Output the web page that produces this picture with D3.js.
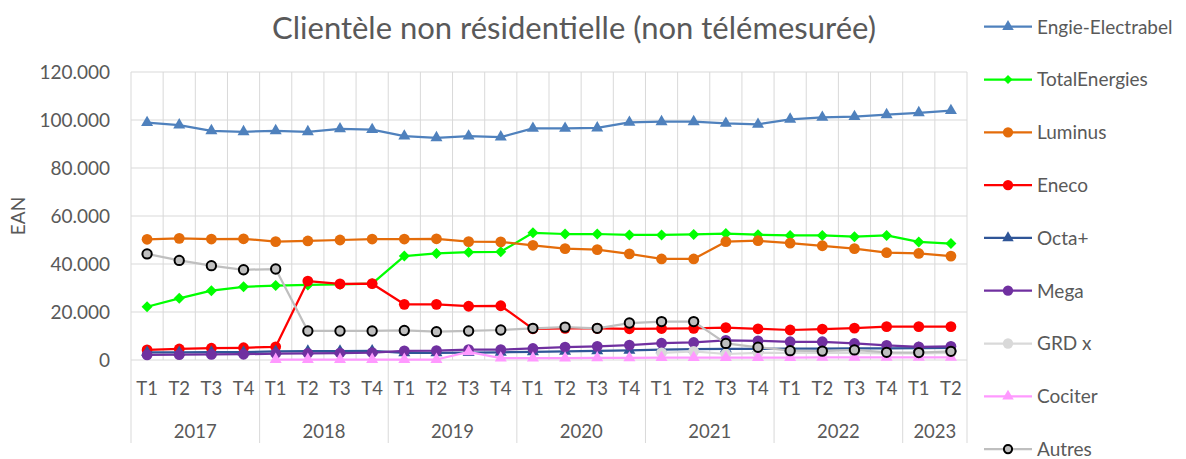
<!DOCTYPE html>
<html>
<head>
<meta charset="utf-8">
<script src="https://cdn.jsdelivr.net/npm/d3@7"></script>
<style>
  body { margin: 0; background: #fff; }
  svg text { font-family: Lato, "Noto Sans", sans-serif; fill: #595959; }
</style>
</head>
<body>
<div id="viz"></div>
<script>
// Clientele non residentielle - EAN per supplier, per quarter

var years = ["2017", "2018", "2019", "2020", "2021", "2022", "2023"];
var quartersPerYear = [4, 4, 4, 4, 4, 4, 2];
var quarterNames = ["T1", "T2", "T3", "T4"];
var yTicks = [0, 20000, 40000, 60000, 80000, 100000, 120000];

var engie   = [98900, 97900, 95500, 95100, 95500, 95100, 96300, 96000, 93300, 92600, 93300, 92900, 96500, 96500, 96700, 99000, 99300, 99300, 98600, 98200, 100300, 101100, 101400, 102200, 103000, 103900];
var total   = [22200, 25700, 28900, 30500, 31000, 31300, 31500, 31800, 43300, 44400, 44900, 45100, 53000, 52500, 52500, 52100, 52100, 52300, 52700, 52200, 51900, 51900, 51400, 51900, 49200, 48500];
var luminus = [50300, 50700, 50400, 50500, 49300, 49600, 50000, 50400, 50400, 50500, 49300, 49200, 47800, 46400, 46000, 44200, 42100, 42100, 49300, 49700, 48700, 47600, 46400, 44700, 44400, 43300];
var eneco   = [4200, 4600, 4900, 5100, 5500, 32900, 31700, 31800, 23200, 23200, 22400, 22600, 13000, 13200, 13200, 13000, 13100, 13200, 13500, 13000, 12500, 12900, 13300, 13900, 13900, 13900];
var octa    = [3200, 3200, 3300, 3300, 3600, 3700, 3700, 3800, 3000, 3000, 3100, 3200, 3400, 3600, 3800, 4000, 4300, 4500, 4600, 4600, 4700, 4700, 4800, 4800, 4900, 5000];
var mega    = [2100, 2200, 2300, 2400, 2700, 2800, 2900, 3100, 3800, 3900, 4300, 4300, 4800, 5400, 5700, 6200, 7000, 7300, 8200, 8000, 7600, 7600, 6900, 6100, 5500, 5700];
var grdx    = [null, null, null, null, null, null, null, null, null, null, null, null, null, null, null, null, 3000, 3600, 2500, 3000, 3000, 3000, 3000, 2800, 2800, 3000];
var cociter = [null, null, null, null, 200, 200, 200, 200, 200, 200, 3400, 800, 800, 800, 900, 900, 1000, 1000, 1000, 1000, 1000, 1100, 1100, 1100, 1100, 1100];
var autres  = [44200, 41500, 39300, 37600, 37900, 12100, 12100, 12100, 12300, 11800, 12100, 12500, 13200, 13700, 13200, 15400, 16000, 16000, 6900, 5300, 3900, 3700, 4200, 3200, 3100, 3600];

var seriesNames = ["Engie-Electrabel", "TotalEnergies", "Luminus", "Eneco", "Octa+", "Mega", "GRD x", "Cociter", "Autres"];
var seriesValues = [engie, total, luminus, eneco, octa, mega, grdx, cociter, autres];

// look of each series (line colour, marker shape, marker fill, marker stroke)
var styles = [
    {color: "#4F81BD", shape: "triangle", fill: "#4F81BD", stroke: "none"},
    {color: "#00FF00", shape: "diamond",  fill: "#00FF00", stroke: "none"},
    {color: "#E46C0A", shape: "circle",   fill: "#E46C0A", stroke: "none"},
    {color: "#FF0000", shape: "circle",   fill: "#FF0000", stroke: "none"},
    {color: "#2F5597", shape: "triangle", fill: "#2F5597", stroke: "none"},
    {color: "#7030A0", shape: "circle",   fill: "#7030A0", stroke: "none"},
    {color: "#D9D9D9", shape: "circle",   fill: "#D9D9D9", stroke: "none"},
    {color: "#FF99FF", shape: "triangle", fill: "#FF99FF", stroke: "none"},
    {color: "#BFBFBF", shape: "circle",   fill: "#BFBFBF", stroke: "#000000"}
];

var width = 1186, height = 459;
var plotLeft = 131, plotRight = 967, plotTop = 72, plotBottom = 360;

var categories = [];
years.forEach(function(y, yi) {
    for (var q = 0; q < quartersPerYear[yi]; ++q) categories.push({year: y, quarter: quarterNames[q], idx: categories.length});
});

var x = d3.scaleBand().domain(d3.range(categories.length)).range([plotLeft, plotRight]);
var y = d3.scaleLinear().domain([0, 120000]).range([plotBottom, plotTop]);
var fmt = function(v) { return d3.format(",")(v).replace(/,/g, "."); };

function marker_path(shape, s) {
    if (shape == "triangle") return d3.symbol().type(d3.symbolTriangle).size(s * 5.2)();
    if (shape == "diamond") {
        var r = s * 0.5;
        return "M0," + (-r) + "L" + r + ",0L0," + r + "L" + (-r) + ",0Z";
    }
    return d3.symbol().type(d3.symbolCircle).size(s * 7.6)();
}

var svg = d3.select("#viz").append("svg").attr("width", width).attr("height", height);

// title
svg.append("text")
    .attr("x", 574).attr("y", 39)
    .attr("text-anchor", "middle")
    .style("font-size", "31px")
    .text("Clientèle non résidentielle (non télémesurée)");

// grid
var grid = svg.append("g");
grid.selectAll(".hg").data(yTicks).enter().append("line")
    .attr("x1", plotLeft).attr("x2", plotRight)
    .attr("y1", function(d) { return y(d); }).attr("y2", function(d) { return y(d); })
    .attr("stroke", "#D9D9D9").attr("stroke-width", 1);
grid.selectAll(".vg").data(d3.range(categories.length + 1)).enter().append("line")
    .attr("x1", function(i) { return plotLeft + i * x.step(); })
    .attr("x2", function(i) { return plotLeft + i * x.step(); })
    .attr("y1", plotTop).attr("y2", plotBottom)
    .attr("stroke", "#D9D9D9").attr("stroke-width", 1);

// y axis labels
svg.selectAll(".ytick").data(yTicks).enter().append("text")
    .attr("x", 110).attr("y", function(d) { return y(d); })
    .attr("dy", "0.36em")
    .attr("text-anchor", "end")
    .style("font-size", "19px")
    .text(function(d) { return fmt(d); });

svg.append("text")
    .attr("transform", "translate(25,216) rotate(-90)")
    .attr("text-anchor", "middle")
    .style("font-size", "19px")
    .text("EAN");

// x axis: quarters, then years with separators
svg.selectAll(".qlab").data(categories).enter().append("text")
    .attr("x", function(d) { return x(d.idx) + x.bandwidth() / 2; })
    .attr("y", 395)
    .attr("text-anchor", "middle")
    .style("font-size", "18.5px")
    .text(function(d) { return d.quarter; });

var yearStart = [];
var acc = 0;
for (var i = 0; i < years.length; ++i) { yearStart.push(acc); acc += quartersPerYear[i]; }
yearStart.push(acc);

svg.selectAll(".ysep").data(yearStart).enter().append("line")
    .attr("x1", function(d) { return plotLeft + d * x.step(); })
    .attr("x2", function(d) { return plotLeft + d * x.step(); })
    .attr("y1", plotBottom).attr("y2", 443)
    .attr("stroke", "#D9D9D9").attr("stroke-width", 1);

svg.selectAll(".ylab").data(years).enter().append("text")
    .attr("x", function(d, i) { return plotLeft + (yearStart[i] + quartersPerYear[i] / 2) * x.step(); })
    .attr("y", 438)
    .attr("text-anchor", "middle")
    .style("font-size", "18.5px")
    .text(function(d) { return d; });

// series
var line = d3.line()
    .defined(function(d) { return d != null; })
    .x(function(d, i) { return x(i) + x.bandwidth() / 2; })
    .y(function(d) { return y(d); });

seriesValues.forEach(function(vals, si) {
    var st = styles[si];
    var g = svg.append("g");
    g.append("path")
        .attr("d", line(vals))
        .attr("fill", "none")
        .attr("stroke", st.color)
        .attr("stroke-width", 2.25)
        .attr("stroke-linejoin", "round");
    var pts = vals.map(function(v, i) { return {v: v, i: i}; }).filter(function(d) { return d.v != null; });
    var sz = (si == 8) ? 9 : (st.shape == "diamond" ? 11 : 12);
    g.selectAll("path.m").data(pts).enter().append("path")
        .attr("class", "m")
        .attr("d", marker_path(st.shape, sz))
        .attr("transform", function(d) { return "translate(" + (x(d.i) + x.bandwidth() / 2) + "," + y(d.v) + ")"; })
        .attr("fill", st.fill)
        .attr("stroke", st.stroke)
        .attr("stroke-width", st.stroke == "none" ? 0 : 2);
});

// legend
var legend = svg.append("g");
seriesNames.forEach(function(name, si) {
    var st = styles[si];
    var ly = 26.7 + si * 52.8;
    legend.append("line")
        .attr("x1", 984).attr("x2", 1032).attr("y1", ly).attr("y2", ly)
        .attr("stroke", st.color).attr("stroke-width", 2.25);
    var sz = (si == 8) ? 7 : (st.shape == "diamond" ? 9 : 11);
    legend.append("path")
        .attr("d", marker_path(st.shape, sz))
        .attr("transform", "translate(1008," + ly + ")")
        .attr("fill", st.fill)
        .attr("stroke", st.stroke)
        .attr("stroke-width", st.stroke == "none" ? 0 : 2);
    legend.append("text")
        .attr("x", 1037).attr("y", ly).attr("dy", "0.36em")
        .style("font-size", "19px")
        .text(name);
});
</script>
</body>
</html>
